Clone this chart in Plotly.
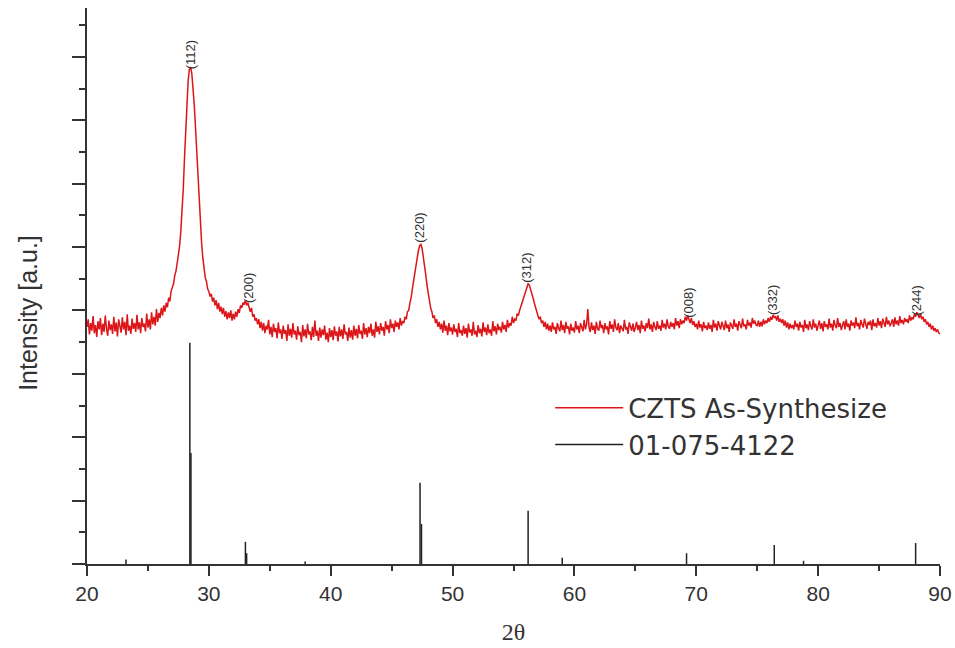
import numpy as np
import plotly.graph_objects as go

# ---- data ----
two_theta_start, two_theta_step = 20.0, 0.1
czts_intensity = [
    3.74, 3.86, 3.62, 3.80, 3.68, 3.91, 3.64, 3.77, 3.58, 3.83,
    3.70, 3.88, 3.61, 3.79, 3.66, 3.92, 3.71, 3.60, 3.84, 3.69,
    3.78, 3.63, 3.90, 3.67, 3.81, 3.59, 3.86, 3.72, 3.65, 3.89,
    3.70, 3.82, 3.61, 3.94, 3.68, 3.76, 3.63, 3.87, 3.71, 3.80,
    3.66, 3.93, 3.70, 3.81, 3.64, 3.88, 3.74, 3.79, 3.67, 3.95,
    3.73, 3.86, 3.70, 3.97, 3.78, 3.90, 3.76, 4.02, 3.82, 3.96,
    3.88, 4.04, 3.92, 4.08, 3.98, 4.12, 4.05, 4.20, 4.14, 4.30,
    4.35, 4.42, 4.55, 4.62, 4.74, 4.86, 5.02, 5.25, 5.55, 5.92,
    6.40, 6.88, 7.30, 7.62, 7.80, 7.84, 7.74, 7.55, 7.25, 6.90,
    6.52, 6.10, 5.72, 5.36, 5.08, 4.84, 4.68, 4.52, 4.46, 4.34,
    4.30, 4.22, 4.26, 4.14, 4.20, 4.08, 4.16, 4.02, 4.12, 3.98,
    4.06, 3.94, 4.04, 3.90, 3.99, 3.86, 3.97, 3.88, 4.00, 3.84,
    3.95, 3.86, 3.98, 3.90, 4.02, 3.96, 4.08, 4.04, 4.12, 4.10,
    4.16, 4.08, 4.12, 4.02, 3.98, 4.04, 3.90, 3.94, 3.84, 3.88,
    3.78, 3.86, 3.72, 3.82, 3.68, 3.80, 3.64, 3.76, 3.70, 3.85,
    3.62, 3.74, 3.58, 3.79, 3.66, 3.72, 3.56, 3.81, 3.64, 3.70,
    3.55, 3.76, 3.63, 3.69, 3.52, 3.78, 3.60, 3.71, 3.57, 3.80,
    3.62, 3.68, 3.54, 3.75, 3.61, 3.66, 3.50, 3.77, 3.59, 3.70,
    3.56, 3.79, 3.62, 3.67, 3.53, 3.74, 3.58, 3.84, 3.60, 3.68,
    3.52, 3.73, 3.57, 3.70, 3.61, 3.76, 3.54, 3.65, 3.50, 3.72,
    3.58, 3.69, 3.53, 3.75, 3.60, 3.67, 3.51, 3.74, 3.59, 3.70,
    3.55, 3.78, 3.62, 3.66, 3.52, 3.73, 3.57, 3.69, 3.54, 3.76,
    3.60, 3.71, 3.56, 3.77, 3.63, 3.68, 3.55, 3.80, 3.62, 3.72,
    3.58, 3.74, 3.64, 3.79, 3.60, 3.70, 3.57, 3.82, 3.66, 3.75,
    3.62, 3.80, 3.68, 3.74, 3.60, 3.83, 3.70, 3.77, 3.64, 3.86,
    3.72, 3.79, 3.66, 3.84, 3.74, 3.81, 3.70, 3.88, 3.76, 3.83,
    3.80, 3.90, 3.86, 3.98, 4.00, 4.12, 4.20, 4.34, 4.46, 4.60,
    4.72, 4.86, 4.95, 5.02, 5.04, 4.98, 4.86, 4.72, 4.56, 4.40,
    4.26, 4.14, 4.04, 3.98, 3.88, 3.92, 3.80, 3.86, 3.74, 3.82,
    3.70, 3.79, 3.65, 3.84, 3.68, 3.76, 3.61, 3.80, 3.67, 3.73,
    3.62, 3.78, 3.66, 3.71, 3.58, 3.80, 3.64, 3.69, 3.60, 3.76,
    3.63, 3.72, 3.57, 3.79, 3.65, 3.70, 3.60, 3.82, 3.62, 3.68,
    3.58, 3.77, 3.64, 3.71, 3.59, 3.81, 3.66, 3.73, 3.61, 3.78,
    3.64, 3.70, 3.60, 3.83, 3.67, 3.75, 3.62, 3.79, 3.69, 3.74,
    3.65, 3.82, 3.70, 3.77, 3.66, 3.85, 3.73, 3.80, 3.76, 3.90,
    3.80, 3.86, 3.84, 3.95, 3.92, 4.00, 4.06, 4.12, 4.18, 4.26,
    4.30, 4.38, 4.42, 4.40, 4.34, 4.28, 4.20, 4.12, 4.04, 3.98,
    3.92, 3.86, 3.90, 3.80, 3.84, 3.74, 3.82, 3.70, 3.79, 3.68,
    3.76, 3.66, 3.81, 3.70, 3.74, 3.63, 3.80, 3.72, 3.67, 3.84,
    3.69, 3.77, 3.64, 3.82, 3.71, 3.75, 3.62, 3.79, 3.68, 3.73,
    3.65, 3.83, 3.70, 3.76, 3.64, 3.80, 3.72, 3.67, 3.85, 3.70,
    3.78, 4.02, 3.73, 3.66, 3.81, 3.69, 3.76, 3.63, 3.82, 3.71,
    3.68, 3.84, 3.72, 3.77, 3.64, 3.80, 3.70, 3.75, 3.62, 3.83,
    3.71, 3.78, 3.66, 3.86, 3.73, 3.69, 3.80, 3.64, 3.76, 3.72,
    3.67, 3.85, 3.70, 3.74, 3.63, 3.81, 3.75, 3.68, 3.79, 3.66,
    3.73, 3.82, 3.69, 3.77, 3.64, 3.84, 3.71, 3.76, 3.67, 3.80,
    3.72, 3.87, 3.70, 3.78, 3.66, 3.82, 3.74, 3.69, 3.83, 3.71,
    3.76, 3.68, 3.85, 3.73, 3.79, 3.70, 3.86, 3.75, 3.71, 3.82,
    3.74, 3.80, 3.70, 3.88, 3.76, 3.83, 3.72, 3.86, 3.78, 3.84,
    3.80, 3.90, 3.84, 3.92, 3.86, 3.80, 3.88, 3.77, 3.83, 3.74,
    3.79, 3.70, 3.84, 3.73, 3.78, 3.67, 3.82, 3.72, 3.76, 3.69,
    3.81, 3.71, 3.77, 3.66, 3.85, 3.73, 3.79, 3.68, 3.83, 3.74,
    3.70, 3.82, 3.76, 3.69, 3.84, 3.72, 3.78, 3.66, 3.81, 3.75,
    3.71, 3.86, 3.74, 3.79, 3.68, 3.83, 3.76, 3.72, 3.87, 3.75,
    3.78, 3.70, 3.85, 3.76, 3.81, 3.73, 3.88, 3.79, 3.84, 3.77,
    3.76, 3.84, 3.74, 3.82, 3.75, 3.86, 3.78, 3.84, 3.80, 3.88,
    3.82, 3.90, 3.85, 3.93, 3.88, 3.91, 3.84, 3.92, 3.82, 3.87,
    3.80, 3.86, 3.76, 3.84, 3.73, 3.81, 3.70, 3.79, 3.72, 3.77,
    3.70, 3.84, 3.74, 3.79, 3.68, 3.82, 3.73, 3.77, 3.66, 3.85,
    3.72, 3.78, 3.69, 3.83, 3.75, 3.70, 3.86, 3.73, 3.79, 3.68,
    3.76, 3.84, 3.71, 3.80, 3.67, 3.83, 3.74, 3.78, 3.70, 3.87,
    3.73, 3.79, 3.68, 3.85, 3.76, 3.72, 3.88, 3.74, 3.80, 3.69,
    3.77, 3.83, 3.70, 3.86, 3.74, 3.79, 3.68, 3.84, 3.76, 3.81,
    3.72, 3.89, 3.75, 3.80, 3.70, 3.85, 3.78, 3.73, 3.87, 3.76,
    3.71, 3.82, 3.77, 3.84, 3.69, 3.86, 3.75, 3.80, 3.73, 3.88,
    3.76, 3.83, 3.72, 3.87, 3.79, 3.74, 3.90, 3.78, 3.84, 3.75,
    3.80, 3.86, 3.74, 3.89, 3.78, 3.84, 3.76, 3.91, 3.80, 3.85,
    3.78, 3.88, 3.82, 3.86, 3.80, 3.92, 3.84, 3.89, 3.86, 3.94,
    3.90, 3.97, 3.93, 3.88, 3.95, 3.86, 3.90, 3.82, 3.86, 3.78,
    3.82, 3.74, 3.79, 3.70, 3.76, 3.68, 3.72, 3.66, 3.70, 3.64,
    3.63,
]
two_theta = np.round(two_theta_start + two_theta_step * np.arange(len(czts_intensity)), 2)

ref_positions = [23.2, 28.44, 28.53, 33.0, 33.1, 37.9, 47.33, 47.45, 56.2, 59.0, 69.2, 76.4, 78.8, 88.0]
ref_intensity = [0.07, 3.49, 1.75, 0.35, 0.17, 0.04, 1.28, 0.63, 0.84, 0.10, 0.17, 0.30, 0.05, 0.33]

peak_labels = ["(112)", "(200)", "(220)", "(312)", "(008)", "(332)", "(244)"]
peak_label_x = [28.45, 33.2, 47.3, 56.1, 69.4, 76.2, 88.05]
peak_label_y = [8.04, 4.35, 5.3, 4.67, 4.12, 4.16, 4.16]

series_names = ["CZTS As-Synthesize", "01-075-4122"]

# ---- build stick pattern ----
stick_x, stick_y = [], []
for p, h in zip(ref_positions, ref_intensity):
    stick_x += [p, p, None]
    stick_y += [0, h, None]

fig = go.Figure()
fig.add_trace(go.Scatter(
    x=two_theta, y=czts_intensity, mode="lines", name=series_names[0],
    line=dict(color="#dc1518", width=1.5), legendgroup="a"))
fig.add_trace(go.Scatter(
    x=stick_x, y=stick_y, mode="lines", name=series_names[1],
    line=dict(color="#222222", width=1.5), legendgroup="b"))

for t, x, y in zip(peak_labels, peak_label_x, peak_label_y):
    fig.add_annotation(x=x, y=y, text=t, textangle=-90, showarrow=False,
                       font=dict(family="Liberation Sans, Arial", size=13, color="#333"))

fig.add_annotation(xref="paper", yref="paper", x=-0.069, y=0.452, xanchor="center", yanchor="middle",
                   text="Intensity [a.u.]", textangle=-90, showarrow=False,
                   font=dict(family="Liberation Sans, Arial", size=25, color="#333"))

axis_common = dict(showline=True, linecolor="#333", linewidth=2, showgrid=False,
                   zeroline=False, ticks="outside", tickcolor="#333", tickwidth=2,
                   automargin=False)
fig.update_xaxes(range=[20, 90], dtick=10, tick0=20, ticklen=10,
                 minor=dict(dtick=5, ticklen=5, ticks="outside", tickcolor="#333", tickwidth=2),
                 tickfont=dict(family="Liberation Sans, Arial", size=21, color="#333"),
                 ticklabeloverflow="allow",
                 title=dict(text="2θ", font=dict(family="Liberation Serif, Times New Roman", size=24, color="#333"),
                            standoff=19),
                 **axis_common)
fig.update_yaxes(range=[0, 8.77], dtick=1, tick0=0, ticklen=13, showticklabels=False,
                 minor=dict(dtick=0.5, ticklen=6, ticks="outside", tickcolor="#333", tickwidth=2),
                 **axis_common)

fig.update_layout(
    width=955, height=648,
    margin=dict(l=87, r=15, t=8, b=84),
    plot_bgcolor="white", paper_bgcolor="white",
    legend=dict(x=0.543, y=0.323, xanchor="left", yanchor="top", bgcolor="rgba(0,0,0,0)",
                font=dict(family="DejaVu Sans", size=26, color="#333"),
                tracegroupgap=0, itemwidth=68),
    showlegend=True,
)

fig.write_html("out.html", config={"displayModeBar": False},
               post_script="document.body.style.margin='0';document.body.style.overflow='hidden';")
